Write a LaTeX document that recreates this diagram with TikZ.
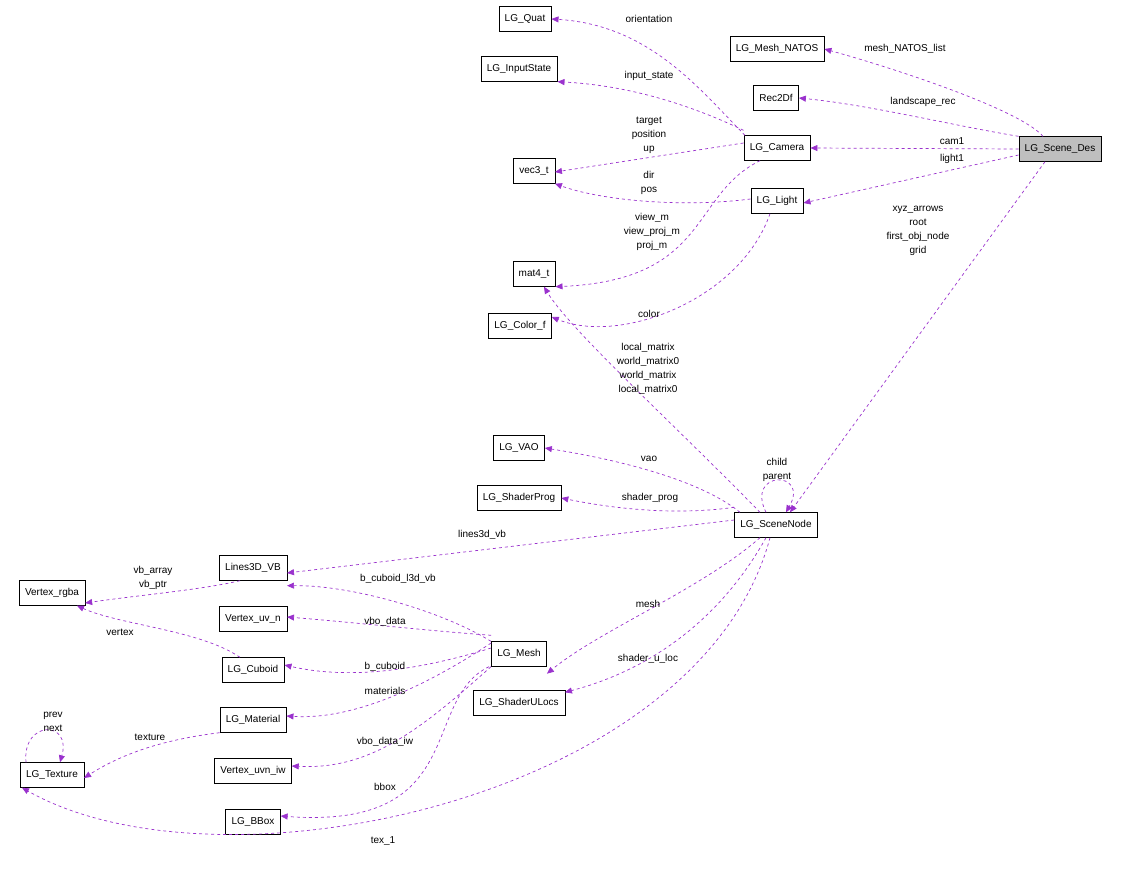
\documentclass[tikz,border=0pt]{standalone}
\usepackage{fontspec}
\setmainfont{Liberation Sans}
\usetikzlibrary{arrows.meta}
\definecolor{edgecol}{HTML}{9A32CD}
\tikzset{
  cls/.style={draw=black, fill=white, minimum height=25pt, inner xsep=6pt, inner ysep=2pt},
  rel/.style={draw=edgecol, dashed, line width=0.7pt, -{Triangle[length=7pt,width=6pt]}},
  lbl/.style={align=center, inner sep=0pt}
}
\begin{document}
\begin{tikzpicture}[x=1pt,y=-1pt,font=\fontsize{10}{14}\selectfont]
\useasboundingbox (0,0) rectangle (1124,875);
%% classes
\node[cls] (quat) at (525,19) {LG\_Quat};
\node[cls] (natos) at (777,49) {LG\_Mesh\_NATOS};
\node[cls] (input) at (519,69) {LG\_InputState};
\node[cls] (rec) at (776,98) {Rec2Df};
\node[cls, fill=black!25] (des) at (1060,149) {LG\_Scene\_Des};
\node[cls] (cam) at (777,148) {LG\_Camera};
\node[cls] (vec) at (534,171) {vec3\_t};
\node[cls] (light) at (777,201) {LG\_Light};
\node[cls] (mat) at (534,274) {mat4\_t};
\node[cls] (color) at (520,326) {LG\_Color\_f};
\node[cls] (vao) at (519,448) {LG\_VAO};
\node[cls] (prog) at (519,498) {LG\_ShaderProg};
\node[cls] (snode) at (776,525) {LG\_SceneNode};
\node[cls] (lines) at (253,568) {Lines3D\_VB};
\node[cls] (rgba) at (52,593) {Vertex\_rgba};
\node[cls] (uvn) at (253,619) {Vertex\_uv\_n};
\node[cls] (mesh) at (519,654) {LG\_Mesh};
\node[cls] (cuboid) at (253,670) {LG\_Cuboid};
\node[cls] (ulocs) at (519,703) {LG\_ShaderULocs};
\node[cls] (material) at (253,720) {LG\_Material};
\node[cls] (tex) at (52,775) {LG\_Texture};
\node[cls] (uvniw) at (253,771) {Vertex\_uvn\_iw};
\node[cls] (bbox) at (253,822) {LG\_BBox};
%% scene description
\draw[rel] ([xshift=-17pt]des.north) .. controls (1020,110) and (900,70) .. (natos.east);
\draw[rel] (des.north west) .. controls (950,125) and (870,105) .. (rec.east);
\draw[rel] (des.west) -- (cam.east);
\draw[rel] ([yshift=-6pt]des.west) -- ([yshift=-2pt]light.east);
\draw[rel] ([xshift=-15pt]des.south) -- ([xshift=14pt]snode.north);
\node[lbl] (l1) at (905,49) {mesh\_NATOS\_list};
\node[lbl] (l2) at (923,102) {landscape\_rec};
\node[lbl] (l3) at (952,141) {cam1};
\node[lbl] (l4) at (952,159) {light1};
\node[lbl] (l5) at (918,231) {xyz\_arrows\\root\\first\_obj\_node\\grid};
%% camera and light
\draw[rel] ([xshift=-32pt]cam.north) .. controls (700,90) and (650,25) .. (quat.east);
\draw[rel] ([yshift=5pt]cam.north west) .. controls (680,100) and (620,85) .. (input.south east);
\draw[rel] ([yshift=5pt]cam.west) -- ([yshift=-1pt]vec.east);
\draw[rel] ([xshift=-17pt]cam.south) .. controls (690,195) and (710,280) .. (mat.south east);
\draw[rel] ([yshift=2pt]light.west) .. controls (680,208) and (600,200) .. (vec.south east);
\draw[rel] ([xshift=-7pt]light.south) .. controls (740,300) and (620,345) .. ([yshift=9pt]color.east);
\node[lbl] (l6) at (649,19) {orientation};
\node[lbl] (l7) at (649,76) {input\_state};
\node[lbl] (l8) at (649,135) {target\\position\\up};
\node[lbl] (l9) at (649,183) {dir\\pos};
\node[lbl] (l10) at (652,232) {view\_m\\view\_proj\_m\\proj\_m};
\node[lbl] (l11) at (649,314) {color};
%% scene node
\draw[rel] ([xshift=-16pt]snode.north) .. controls (680,430) and (570,330) .. ([xshift=10pt]mat.south);
\draw[rel] ([xshift=-36pt]snode.north) .. controls (700,480) and (620,460) .. (vao.east);
\draw[rel] ([yshift=5pt]snode.north west) .. controls (680,515) and (620,510) .. (prog.east);
\draw[rel] ([xshift=-10pt]snode.north) .. controls (745,470) and (810,470) .. ([xshift=10pt]snode.north);
\draw[rel] ([yshift=5pt]snode.west) -- ([yshift=-5pt]lines.east);
\draw[rel] ([xshift=-16pt]snode.south) .. controls (700,590) and (600,630) .. ([yshift=-7pt]mesh.south east);
\draw[rel] ([xshift=-10pt]snode.south) .. controls (720,620) and (650,670) .. ([yshift=-2pt]ulocs.north east);
\draw[rel] ([xshift=-6pt]snode.south) .. controls (700,800) and (220,900) .. ([xshift=-30pt]tex.south);
\node[lbl] (l12) at (648,369) {local\_matrix\\world\_matrix0\\world\_matrix\\local\_matrix0};
\node[lbl] (l13) at (649,459) {vao};
\node[lbl] (l14) at (650,498) {shader\_prog};
\node[lbl] (l15) at (777,470) {child\\parent};
\node[lbl] (l16) at (482,535) {lines3d\_vb};
\node[lbl] (l17) at (648,604) {mesh};
\node[lbl] (l18) at (648,659) {shader\_u\_loc};
\node[lbl] (l19) at (383,841) {tex\_1};
%% mesh and friends
\draw[rel] ([xshift=-13pt]lines.south) .. controls (200,590) and (140,595) .. ([yshift=-10pt]rgba.east);
\draw[rel] ([xshift=-28pt]mesh.north) .. controls (440,610) and (350,585) .. ([yshift=-5pt]lines.south east);
\draw[rel] ([yshift=6pt]mesh.north west) .. controls (420,630) and (350,622) .. ([yshift=2pt]uvn.east);
\draw[rel] ([yshift=6pt]mesh.west) .. controls (420,670) and (350,680) .. ([yshift=5pt]cuboid.east);
\draw[rel] ([yshift=11pt]mesh.west) .. controls (420,690) and (350,720) .. ([yshift=4pt]material.east);
\draw[rel] ([xshift=-28pt]mesh.south) .. controls (420,730) and (370,770) .. ([yshift=5pt]uvniw.east);
\draw[rel] ([xshift=-30pt]mesh.south) .. controls (420,700) and (470,830) .. ([yshift=6pt]bbox.east);
\draw[rel] ([xshift=-13pt]cuboid.north) .. controls (200,630) and (120,625) .. ([xshift=25pt]rgba.south);
\draw[rel] (material.south west) .. controls (160,740) and (120,755) .. ([yshift=-3pt]tex.east);
\draw[rel] ([xshift=-26pt]tex.north) .. controls (22,720) and (72,720) .. ([xshift=8pt]tex.north);
\node[lbl] (l20) at (153,578) {vb\_array\\vb\_ptr};
\node[lbl] (l21) at (398,579) {b\_cuboid\_l3d\_vb};
\node[lbl] (l22) at (385,622) {vbo\_data};
\node[lbl] (l23) at (385,667) {b\_cuboid};
\node[lbl] (l24) at (385,691) {materials};
\node[lbl] (l25) at (385,742) {vbo\_data\_iw};
\node[lbl] (l26) at (385,787) {bbox};
\node[lbl] (l27) at (120,632) {vertex};
\node[lbl] (l28) at (150,737) {texture};
\node[lbl] (l29) at (53,722) {prev\\next};
\end{tikzpicture}
\end{document}
